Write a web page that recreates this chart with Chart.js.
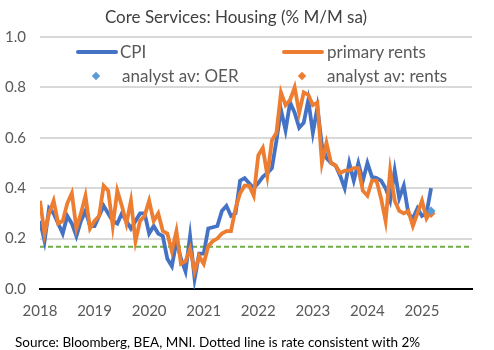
<!DOCTYPE html>
<html>
<head>
<meta charset="utf-8">
<script src="https://cdn.jsdelivr.net/npm/chart.js@4.4.1/dist/chart.umd.min.js"></script>
<style>
  html, body { margin: 0; padding: 0; background: #fff; }
  #wrap { position: relative; width: 494px; height: 350px; overflow: hidden; font-family: Lato, "Open Sans", sans-serif; }
  canvas { position: absolute; left: 0; top: 0; }
  .lg { position: absolute; font-size: 17px; color: #595959; line-height: 20px; white-space: nowrap; }
  .ln { position: absolute; height: 4px; border-radius: 2px; }
  .dm { position: absolute; width: 6px; height: 6px; transform: rotate(45deg); }
  #src { position: absolute; left: 15px; top: 334px; font-size: 13.5px; color: #000; white-space: nowrap; line-height: 16px; }
</style>
</head>
<body>
<div id="wrap">
  <canvas id="c" width="494" height="350"></canvas>
  <div class="ln" style="left:76px;top:50px;width:42px;background:#4472c4"></div>
  <div class="lg" style="left:120px;top:42px">CPI</div>
  <div class="ln" style="left:282px;top:50px;width:42px;background:#ed7d31"></div>
  <div class="lg" style="left:327px;top:42px">primary rents</div>
  <div class="dm" style="left:93px;top:73px;background:#5b9bd5"></div>
  <div class="lg" style="left:122px;top:66px">analyst av: OER</div>
  <div class="dm" style="left:299px;top:73px;background:#ed7d31"></div>
  <div class="lg" style="left:327px;top:66px">analyst av: rents</div>
  <div id="src">Source: Bloomberg, BEA, MNI. Dotted line is rate consistent with 2%</div>
</div>
<script>
// Monthly data, Jan 2018 onwards (index 0 = Jan 2018)
const yearLabels = ['2018','2019','2020','2021','2022','2023','2024','2025'];
const cpi = [
  0.27,0.19,0.32,0.30,0.26,0.22,0.29,0.26,0.21,0.27,0.31,0.25,
  0.25,0.29,0.33,0.30,0.27,0.26,0.30,0.27,0.24,0.27,0.30,0.30,
  0.22,0.25,0.22,0.21,0.12,0.09,0.19,0.12,0.07,0.21,0.04,0.14,
  0.14,0.24,0.245,0.25,0.31,0.33,0.29,0.30,0.43,0.44,0.42,0.40,
  0.42,0.445,0.46,0.48,0.59,0.71,0.63,0.74,0.70,0.64,0.66,0.75,
  0.62,0.72,0.57,0.52,0.50,0.49,0.45,0.40,0.50,0.43,0.50,0.43,
  0.50,0.445,0.44,0.43,0.40,0.35,0.47,0.36,0.41,0.30,0.28,0.32,
  0.29,0.30,0.40
];
const primaryRents = [
  0.35,0.22,0.30,0.35,0.26,0.27,0.34,0.38,0.24,0.30,0.37,0.24,
  0.27,0.29,0.41,0.39,0.25,0.39,0.33,0.26,0.35,0.19,0.27,0.29,
  0.35,0.27,0.30,0.23,0.22,0.15,0.23,0.10,0.11,0.16,0.07,0.13,
  0.10,0.17,0.19,0.20,0.22,0.23,0.23,0.32,0.38,0.41,0.41,0.37,
  0.53,0.56,0.45,0.59,0.62,0.78,0.73,0.75,0.80,0.70,0.78,0.77,
  0.73,0.74,0.50,0.58,0.50,0.49,0.46,0.47,0.47,0.48,0.48,0.39,
  0.37,0.43,0.43,0.36,0.27,0.47,0.35,0.31,0.30,0.31,0.25,0.30,
  0.35,0.28,0.31
];
const analystMonth = 86;
const analystOER = 0.31;
const analystRents = 0.30;
const targetRate = 0.168;
const axisMonths = [0, 95];

const toPts = arr => arr.map((v, i) => ({x: i, y: v}));

new Chart(document.getElementById('c'), {
  type: 'line',
  data: {
    datasets: [
      { label: 'analyst av: OER', data: [{x: analystMonth, y: analystOER}], showLine: false,
        pointStyle: 'rectRot', pointRadius: 4.5, backgroundColor: '#5b9bd5', borderColor: '#5b9bd5', borderWidth: 0, order: 0 },
      { label: 'analyst av: rents', data: [{x: analystMonth, y: analystRents}], showLine: false,
        pointStyle: 'rectRot', pointRadius: 4.5, backgroundColor: '#ed7d31', borderColor: '#ed7d31', borderWidth: 0, order: 1 },
      { label: 'primary rents', data: toPts(primaryRents), borderColor: '#ed7d31', borderWidth: 3.8,
        pointRadius: 0, tension: 0, order: 2 },
      { label: 'CPI', data: toPts(cpi), borderColor: '#4472c4', borderWidth: 3.8,
        pointRadius: 0, tension: 0, order: 3 },
      { label: 'target', data: axisMonths.map(m => ({x: m, y: targetRate})), borderColor: '#70ad47',
        borderWidth: 2, borderDash: [5, 3], pointRadius: 0, order: 4 }
    ]
  },
  options: {
    responsive: false,
    animation: false,
    devicePixelRatio: 1,
    layout: { padding: { top: 0, left: 0, right: 22, bottom: 21 } },
    plugins: {
      legend: { display: false },
      tooltip: { enabled: false },
      title: {
        display: true,
        text: 'Core Services: Housing (% M/M sa)',
        color: '#404040',
        font: { family: 'Lato', size: 17, weight: 'normal' },
        padding: { top: 7.8, bottom: 8.8 }
      }
    },
    scales: {
      x: {
        type: 'linear',
        min: axisMonths[0], max: axisMonths[1],
        grid: { display: false, drawTicks: false },
        border: { display: true, color: '#000', width: 2 },
        ticks: {
          stepSize: 12, padding: 13, color: '#595959', maxRotation: 0, autoSkip: false,
          font: { family: 'Lato', size: 15 },
          callback: v => yearLabels[v / 12]
        },
        afterFit: s => { s.height = 40; }
      },
      y: {
        min: 0, max: 1,
        grid: { color: '#d9d9d9', lineWidth: 2, drawTicks: false },
        border: { display: false },
        ticks: {
          stepSize: 0.2, padding: 14, color: '#595959',
          font: { family: 'Lato', size: 15 },
          callback: v => v.toFixed(1)
        },
        afterFit: s => { s.width = 40; }
      }
    }
  }
});
</script>
</body>
</html>
